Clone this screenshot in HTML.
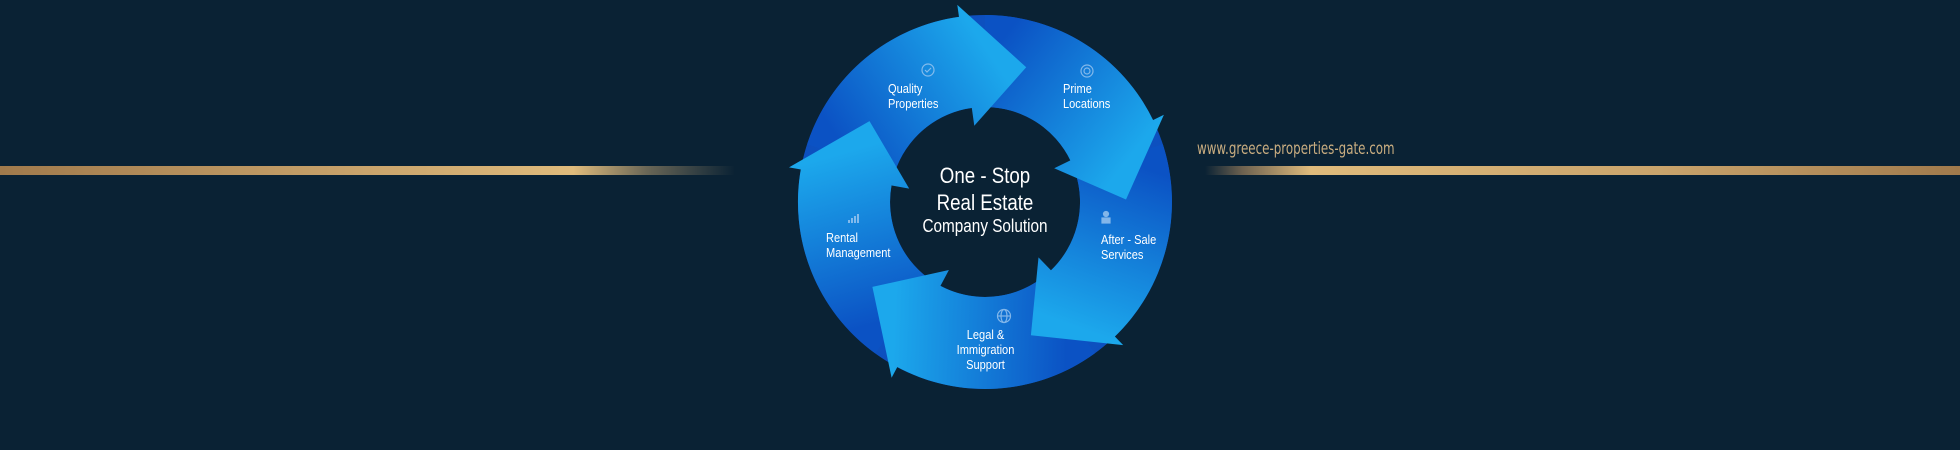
<!DOCTYPE html>
<html><head><meta charset="utf-8"><style>
html,body{margin:0;padding:0;background:#0a2234;}
body{width:1960px;height:450px;position:relative;overflow:hidden;font-family:"Liberation Sans Narrow","Liberation Sans",sans-serif;}
.l{position:absolute;height:9px;top:166px;}
.t{position:absolute;color:#fff;font-size:13px;line-height:15px;transform:scaleX(0.85);transform-origin:0 0;}
.url{position:absolute;left:1197px;top:139px;font-family:"DejaVu Sans","Liberation Sans",sans-serif;font-size:16.5px;color:#c9ad80;transform:scaleX(0.72);transform-origin:0 0;white-space:nowrap;}
</style></head><body>
<div class="l" style="left:0;width:735px;background:linear-gradient(90deg,#a07a4c 0%,#c9a46c 50%,#dfbb7c 78%,rgba(200,170,120,0.5) 88%,rgba(10,34,52,0) 100%);"></div>
<div class="l" style="left:1205px;width:755px;background:linear-gradient(90deg,rgba(10,34,52,0) 0%,#6e6250 5%,#dfbb7c 14%,#c9a46c 60%,#a07a4c 100%);"></div>
<div class="url">www.greece-properties-gate.com</div>
<svg id="s" width="1960" height="450" style="position:absolute;left:0;top:0">
<defs>
<radialGradient id="ring" cx="985" cy="202" r="190" gradientUnits="userSpaceOnUse">
<stop offset="0.5" stop-color="#0a55c8"/><stop offset="1" stop-color="#0d4fbe"/></radialGradient>
</defs>
<path d="M985,15 A187,187 0 1 1 984.9,15 Z M985,107 A95,95 0 1 0 985.1,107 Z" fill="url(#ring)" fill-rule="evenodd"/>
<g id="bodies"></g><g id="heads"></g>
</svg>
<div class="t" style="left:888px;top:81px">Quality<br>Properties</div>
<div class="t" style="left:1063px;top:81px">Prime<br>Locations</div>
<div class="t" style="left:1101px;top:232px">After - Sale<br>Services</div>
<div class="t" style="left:943px;top:327px;width:100px;text-align:center">Legal &amp;<br>Immigration<br>Support</div>
<div class="t" style="left:826px;top:230px">Rental<br>Management</div>
<div class="t" style="left:900px;top:162px;width:200px;text-align:center;font-size:22px;line-height:27px">One - Stop<br>Real Estate</div>
<div class="t" style="left:900px;top:216px;width:200px;text-align:center;font-size:18px;line-height:20px">Company Solution</div>
<svg width="1960" height="450" style="position:absolute;left:0;top:0" fill="none" stroke="#9fc8f0" stroke-width="1.2" opacity="0.8">
<circle cx="928" cy="70" r="6"/><path d="M925,70 l2,2 l4,-4"/>
<circle cx="1087" cy="71" r="6"/><circle cx="1087" cy="71" r="3"/>
<circle cx="1106" cy="214" r="2.5" fill="#9fc8f0"/><rect x="1102" y="218" width="8" height="5" fill="#9fc8f0"/>
<circle cx="1004" cy="316" r="6.5"/><ellipse cx="1004" cy="316" rx="3" ry="6.5"/><path d="M997.5,316h13"/>
<path d="M849,223v-3M852,223v-5M855,223v-7M858,223v-9" stroke-width="2"/>
</svg>
<script>
var cx=985,cy=202,defs=document.querySelector('#s defs');
function P(r,a){a=a*Math.PI/180;return [(cx+r*Math.sin(a)).toFixed(1),(cy-r*Math.cos(a)).toFixed(1)];}
var hb='',hh='',d='';
for(var k=0;k<5;k++){
 var b=-8+72*k,t=b-64;
 var p1=P(187,t),p2=P(187,b+0.5),p3=P(199,b),p4=P(141,b+25),p5=P(77,b),p6=P(95,b+0.5),p7=P(95,t);
 var g1=P(141,t),g2=P(141,b+12);
 d+='<linearGradient id="a'+k+'" gradientUnits="userSpaceOnUse" x1="'+g1[0]+'" y1="'+g1[1]+'" x2="'+g2[0]+'" y2="'+g2[1]+'"><stop offset="0" stop-color="#0b52c4"/><stop offset="1" stop-color="#1ca8ec"/></linearGradient>';
 hb+='<path fill="url(#a'+k+')" d="M'+p1+' A187,187 0 0 1 '+p2+' L'+p6+' A95,95 0 0 0 '+p7+' Z"/>';
 hh+='<path fill="url(#a'+k+')" d="M'+p3+' L'+p4+' L'+p5+' Z"/>';
}
defs.innerHTML+=d;
document.getElementById('bodies').innerHTML=hb;
document.getElementById('heads').innerHTML=hh;
</script>
</body></html>
